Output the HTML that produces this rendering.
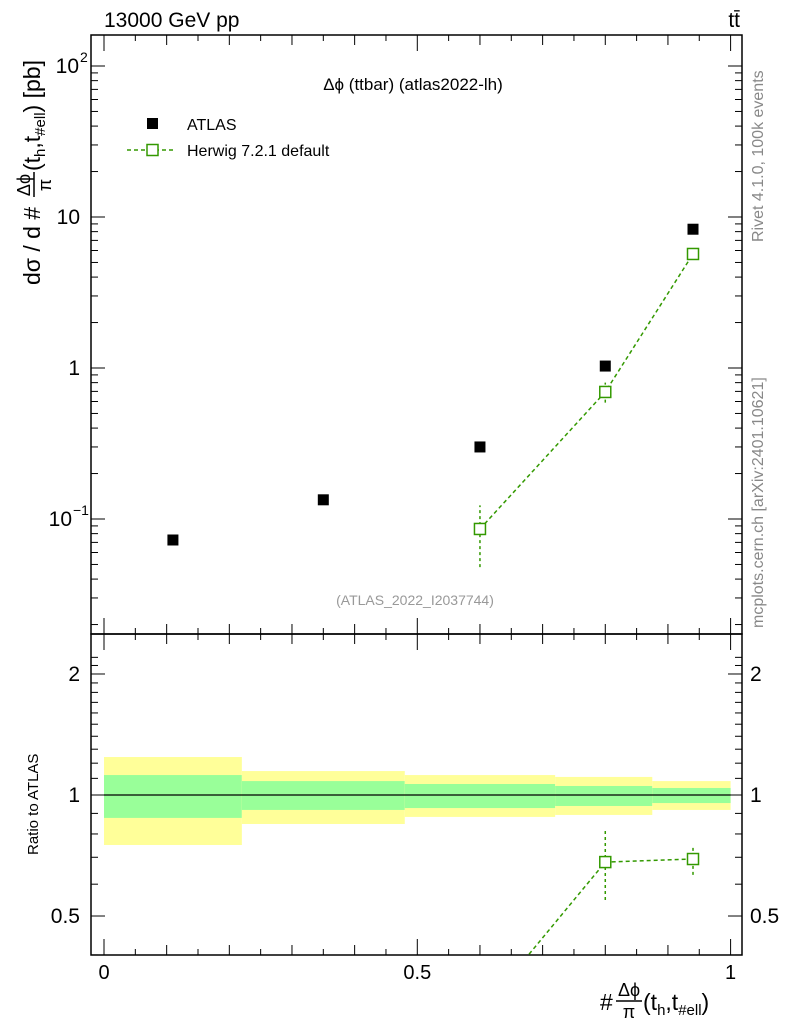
<!DOCTYPE html>
<html><head><meta charset="utf-8"><style>
body{margin:0;background:#fff}
svg{display:block;font-family:"Liberation Sans",sans-serif}
</style></head><body>
<svg id="c" width="786" height="1024" viewBox="0 0 786 1024"></svg>
<script>
const binEdges=[0,0.22,0.48,0.72,0.875,1];
const atlasX=[0.11,0.35,0.6,0.8,0.94];
const atlasY=[0.0726,0.134,0.30,1.03,8.3];
const herwigX=[0.6,0.8,0.94];
const herwigY=[0.0859,0.694,5.69];
const herwigLo=[0.048,0.59,5.45];
const herwigHi=[0.123,0.80,5.95];
const ratioX=[0.6,0.8,0.94];
const ratioY=[0.286,0.681,0.693];
const ratioLo=[0.25,0.548,0.633];
const ratioHi=[0.32,0.814,0.746];
const bandYelLo=[0.751,0.847,0.882,0.892,0.918];
const bandYelHi=[1.243,1.147,1.121,1.109,1.083];
const bandGrnLo=[0.877,0.918,0.928,0.939,0.955];
const bandGrnHi=[1.121,1.083,1.065,1.053,1.041];

const NS="http://www.w3.org/2000/svg",svg=document.getElementById('c');
function el(t,a,txt,p){const e=document.createElementNS(NS,t);for(const k in a)e.setAttribute(k,a[k]);if(txt!=null)e.textContent=txt;(p||svg).appendChild(e);return e;}
const L=91,R=742,T=35,M=634,B=955;
const X=v=>104+v*626.6;
const Y=v=>368-151*Math.log10(v);
const RY=v=>795-402*Math.log10(v);

const defs=el('defs',{});
const cp=el('clipPath',{id:'rc'},null,defs);el('rect',{x:L,y:M,width:R-L,height:B-M},null,cp);
const cp2=el('clipPath',{id:'mc'},null,defs);el('rect',{x:L,y:T,width:R-L,height:M-T},null,cp2);

for(let i=0;i<5;i++){
 let r=el('rect',{x:X(binEdges[i]),y:RY(bandYelHi[i]),width:X(binEdges[i+1])-X(binEdges[i]),height:RY(bandYelLo[i])-RY(bandYelHi[i]),fill:'#ffff99'});
 
 let g=el('rect',{x:X(binEdges[i]),y:RY(bandGrnHi[i]),width:X(binEdges[i+1])-X(binEdges[i]),height:RY(bandGrnLo[i])-RY(bandGrnHi[i]),fill:'#99ff99'});
 
}
el('line',{x1:X(0),x2:X(1),y1:RY(1),y2:RY(1),stroke:'#000','stroke-width':1.3,});

el('rect',{x:L,y:T,width:R-L,height:M-T,fill:'none',stroke:'#000','stroke-width':1.5,});
el('rect',{x:L,y:M,width:R-L,height:B-M,fill:'none',stroke:'#000','stroke-width':1.5,});

for(let k=0;k<=20;k++){const v=k*0.05,x=X(v);if(x>R)break;const big=k%2==0?(k%10==0?16:10):6;
 for(const [y0,d] of [[M,-1],[B,-1],[M,1],[T,1]]){el('line',{x1:x,x2:x,y1:y0,y2:y0+d*big,stroke:'#000','stroke-width':1});}}
for(const v of [0,0.5,1]){el('text',{x:X(v),y:979,'font-size':20,'text-anchor':'middle',},String(v));}

for(let e=-2;e<=2;e++)for(let m=1;m<10;m++){const v=m*Math.pow(10,e),y=Y(v);if(y<T||y>M)continue;const len=m==1?14:7;
 el('line',{x1:L,x2:L+len,y1:y,y2:y,stroke:'#000'});el('line',{x1:R,x2:R-len,y1:y,y2:y,stroke:'#000'});}
el('text',{x:79,y:Y(100)+7,'font-size':21,'text-anchor':'end'},'10');el('text',{x:80,y:Y(100)-4,'font-size':14},'2');
el('text',{x:80,y:Y(10)+7,'font-size':21,'text-anchor':'end'},'10');
el('text',{x:80,y:Y(1)+7,'font-size':21,'text-anchor':'end'},'1');
el('text',{x:72,y:Y(0.1)+7,'font-size':21,'text-anchor':'end'},'10');el('text',{x:73,y:Y(0.1)-4,'font-size':14},'−1');

for(let k=3;k<=22;k++){const v=k/10,y=RY(v);if(y<M||y>B)continue;const len=(k==5||k==10||k==20)?14:7;
 el('line',{x1:L,x2:L+len,y1:y,y2:y,stroke:'#000'});el('line',{x1:R,x2:R-len,y1:y,y2:y,stroke:'#000'});}
for(const [v,t] of [[2,'2'],[1,'1'],[0.5,'0.5']]){
 el('text',{x:80,y:RY(v)+7,'font-size':21,'text-anchor':'end'},t);el('text',{x:750,y:RY(v)+7,'font-size':21},t);}

atlasX.forEach((x,i)=>{const r=el('rect',{x:X(x)-5.5,y:Y(atlasY[i])-5.5,width:11,height:11,fill:'#000'});
 });
const gc='#339900';
el('polyline',{points:herwigX.map((x,i)=>X(x)+','+Y(herwigY[i])).join(' '),fill:'none',stroke:gc,'stroke-width':1.5,'stroke-dasharray':'4,3','clip-path':'url(#mc)',});
herwigX.forEach((x,i)=>{el('line',{x1:X(x),x2:X(x),y1:Y(herwigLo[i]),y2:Y(herwigHi[i]),stroke:gc,'stroke-width':1.5,'stroke-dasharray':'3,3'});
 const r=el('rect',{x:X(x)-5.5,y:Y(herwigY[i])-5.5,width:11,height:11,fill:'#fff',stroke:gc,'stroke-width':1.5});
 });
el('polyline',{points:ratioX.map((x,i)=>X(x)+','+RY(ratioY[i])).join(' '),fill:'none',stroke:gc,'stroke-width':1.5,'stroke-dasharray':'4,3','clip-path':'url(#rc)',});
ratioX.forEach((x,i)=>{const y=RY(ratioY[i]);if(y>B)return;
 el('line',{x1:X(x),x2:X(x),y1:RY(ratioLo[i]),y2:RY(ratioHi[i]),stroke:gc,'stroke-width':1.5,'stroke-dasharray':'3,3'});
 const r=el('rect',{x:X(x)-5.5,y:y-5.5,width:11,height:11,fill:'#fff',stroke:gc,'stroke-width':1.5});
 });
</script>
<svg width="786" height="1024" style="position:absolute;left:0;top:0;font-family:'Liberation Sans',sans-serif">
<text x="104" y="27" font-size="21">13000 GeV pp</text>
<text x="740" y="27" font-size="21" text-anchor="end">tt̄</text>
<text x="413" y="90" font-size="17" text-anchor="middle">Δϕ (ttbar) (atlas2022-lh)</text>
<rect x="147" y="118" width="11" height="11" fill="#000"/>
<text x="187" y="130" font-size="16">ATLAS</text>
<line x1="127" x2="175" y1="150" y2="150" stroke="#339900" stroke-width="1.5" stroke-dasharray="4,3"/>
<rect x="147" y="144.5" width="11" height="11" fill="#fff" stroke="#339900" stroke-width="1.5"/>
<text x="187" y="156" font-size="16">Herwig 7.2.1 default</text>
<text x="415" y="605" font-size="14" fill="#999" text-anchor="middle">(ATLAS_2022_I2037744)</text>
<text transform="translate(763,242) rotate(-90)" font-size="16" fill="#888">Rivet 4.1.0,  100k events</text>
<text transform="translate(763,628) rotate(-90)" font-size="16" fill="#888">mcplots.cern.ch [arXiv:2401.10621]</text>
<g transform="translate(40,285) rotate(-90)">
<text x="0" y="0" font-size="23">dσ / d #</text>
<text x="100" y="-10" font-size="18" text-anchor="middle">Δϕ</text>
<line x1="88" x2="113" y1="-6" y2="-6" stroke="#000" stroke-width="1.5"/>
<text x="100" y="11" font-size="18" text-anchor="middle">π</text>
<text x="114" y="0" font-size="23">(t<tspan font-size="15" dy="5">h</tspan><tspan dy="-5">,t</tspan><tspan font-size="15" dy="5">#ell</tspan><tspan dy="-5">) [pb]</tspan></text>
</g>
<text transform="translate(38,855) rotate(-90)" font-size="15">Ratio to ATLAS</text>
<g>
<text x="600" y="1010" font-size="23">#</text>
<text x="629" y="996" font-size="18" text-anchor="middle">Δϕ</text>
<line x1="616" x2="642" y1="1001" y2="1001" stroke="#000" stroke-width="1.5"/>
<text x="629" y="1018" font-size="18" text-anchor="middle">π</text>
<text x="643" y="1010" font-size="23">(t<tspan font-size="15" dy="5">h</tspan><tspan dy="-5">,t</tspan><tspan font-size="15" dy="5">#ell</tspan><tspan dy="-5">)</tspan></text>
</g>
</svg>
</body></html>
